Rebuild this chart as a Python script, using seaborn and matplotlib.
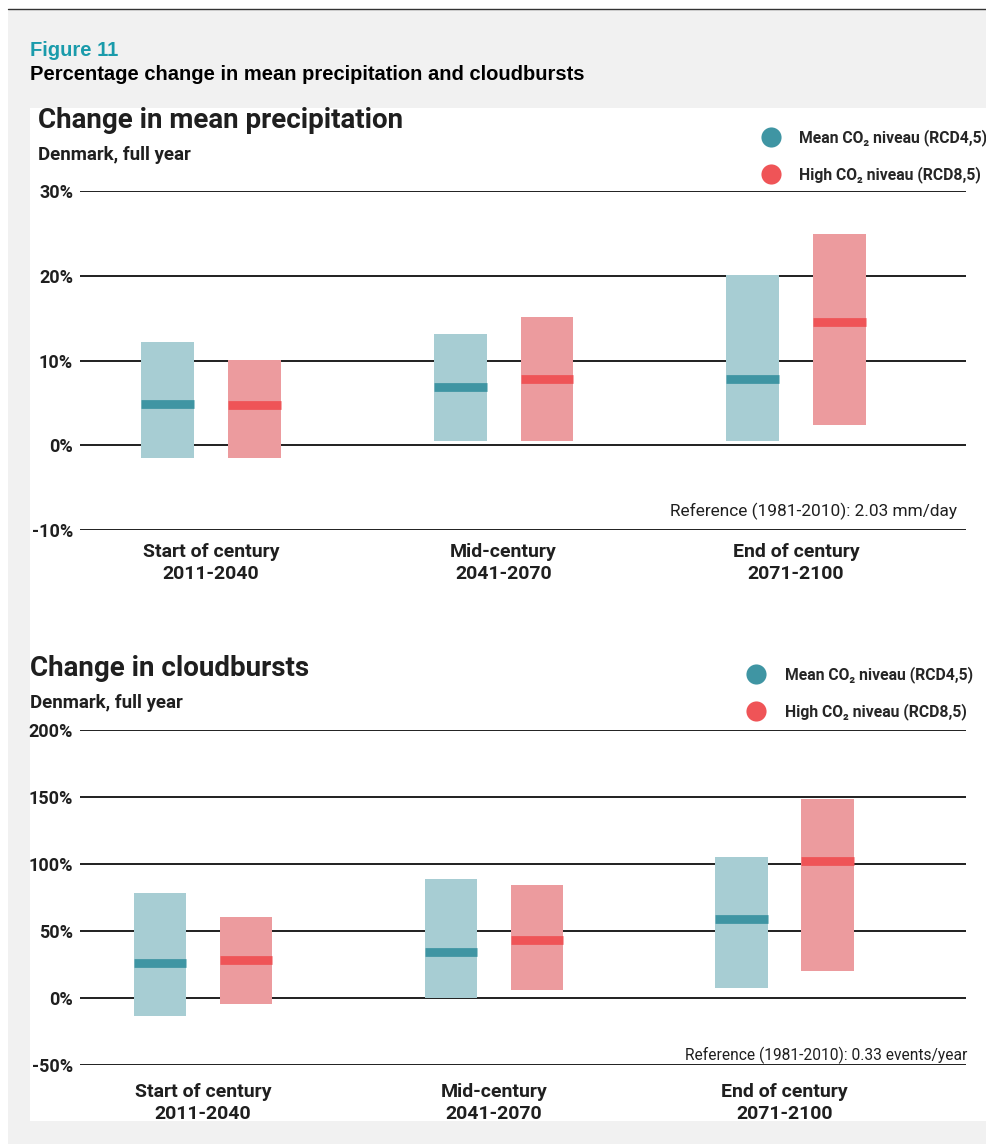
#!/usr/bin/env python3
"""
Figure 11 - percentage change in mean precipitation and cloudbursts (Denmark)
"""

import numpy as np
import pandas as pd
import matplotlib
matplotlib.use("Agg")
import matplotlib.pyplot as plt
from matplotlib.patches import Rectangle
from matplotlib.lines import Line2D
import seaborn as sns

# --- data ------------------------------------------------------------------
periods = ["Start of century\n2011-2040", "Mid-century\n2041-2070", "End of century\n2071-2100"]
scenarios = ["Mean CO₂ niveau (RCD4,5)", "High CO₂ niveau (RCD8,5)"]

# mean precipitation, % change
precip_low_45 = [-1.5, 0.5, 0.5]
precip_high_45 = [12.2, 13.1, 20.1]
precip_med_45 = [4.9, 6.9, 7.8]
precip_low_85 = [-1.5, 0.5, 2.4]
precip_high_85 = [10.1, 15.1, 25.0]
precip_med_85 = [4.8, 7.8, 14.6]

# cloudbursts, % change
burst_low_45 = [-13.5, 0.0, 7.2]
burst_high_45 = [78.0, 88.5, 105.0]
burst_med_45 = [26.0, 34.2, 58.4]
burst_low_85 = [-5.2, 5.4, 19.6]
burst_high_85 = [60.0, 84.0, 148.5]
burst_med_85 = [27.7, 43.1, 102.0]

precip_ticks = [-10, 0, 10, 20, 30]
burst_ticks = [-50, 0, 50, 100, 150, 200]

BAND = ["#a7cdd3", "#ec9b9e"]
MED = ["#3f95a3", "#ef5457"]
INK = "#1f1f1f"

W, H = 986, 1144


def fx(x):
    return x / W


def fy(y):
    return 1 - y / H


def make_frame(low45, high45, med45, low85, high85, med85):
    rows = []
    for i in range(len(periods)):
        rows.append(dict(period=i, scenario=0, low=low45[i], high=high45[i], med=med45[i]))
        rows.append(dict(period=i, scenario=1, low=low85[i], high=high85[i], med=med85[i]))
    df = pd.DataFrame(rows)
    df["span"] = df["high"] - df["low"]
    return df


def draw_panel(ax, df, ticks, xlim, xpad, offset=0.148, width=0.18):
    for s in (0, 1):
        sub = df[df["scenario"] == s].sort_values("period")
        pos = sub["period"].to_numpy() + (-offset if s == 0 else offset)
        sns.barplot(x=pos, y=sub["span"].to_numpy(), bottom=sub["low"].to_numpy(),
                    native_scale=True, width=width, color=BAND[s], saturation=1,
                    errorbar=None, linewidth=0, edgecolor="none", zorder=2, ax=ax)
        ax.hlines(sub["med"], pos - width / 2, pos + width / 2, colors=MED[s],
                  lw=6.3, capstyle="butt", zorder=3)

    ax.set_xlim(*xlim)
    ax.set_ylim(ticks[0], ticks[-1])
    ax.set_yticks(ticks)
    ax.set_yticklabels([f"{t}%" for t in ticks], fontsize=13, fontweight="bold", color=INK)
    ax.set_xticks(range(len(periods)))
    ax.set_xticklabels(periods, fontsize=14, fontweight="bold", color=INK, linespacing=1.3)
    ax.tick_params(axis="y", length=0, pad=5)
    ax.tick_params(axis="x", length=0, pad=xpad)
    ax.grid(axis="y", color=INK, lw=1.4)
    ax.grid(axis="x", visible=False)
    ax.set_axisbelow(True)
    ax.set_xlabel("")
    ax.set_ylabel("")
    sns.despine(ax=ax, left=True, bottom=True)


def add_legend(ax, fig, left, top, pad):
    handles = [Line2D([], [], marker="o", ls="none", ms=14.5, color=MED[i],
                      markeredgewidth=0) for i in (0, 1)]
    ax.legend(handles, scenarios, loc="upper left", bbox_to_anchor=(fx(left), fy(top)),
              bbox_transform=fig.transFigure, frameon=False, borderpad=0,
              borderaxespad=0, handlelength=1.3, handletextpad=pad,
              labelspacing=1.3, prop=dict(size=11.3, weight="bold"))


sns.set_theme(style="white")
plt.rcParams["font.family"] = ["Roboto", "DejaVu Sans"]

fig = plt.figure(figsize=(W / 100, H / 100), dpi=100)
fig.patch.set_facecolor("white")

# background panels
fig.add_artist(Rectangle((fx(8), 0), fx(W - 8), fy(10), transform=fig.transFigure,
                         facecolor="#f1f1f1", edgecolor="none", zorder=-3))
fig.add_artist(Rectangle((fx(30), fy(1121)), fx(W - 30), fy(108) - fy(1121),
                         transform=fig.transFigure, facecolor="white",
                         edgecolor="none", zorder=-2))
fig.add_artist(Line2D([fx(8), 1], [fy(9), fy(9)], transform=fig.transFigure,
                      color="#333333", lw=1))

fig.text(fx(30), fy(50), "Figure 11", color="#1a9bab", fontsize=14.5,
         fontweight="bold", family=["Liberation Sans", "DejaVu Sans"], va="center")
fig.text(fx(30), fy(75), "Percentage change in mean precipitation and cloudbursts",
         color="black", fontsize=14.5, fontweight="bold",
         family=["Liberation Sans", "DejaVu Sans"], va="center")

# --- chart 1: mean precipitation -------------------------------------------
ax1 = fig.add_axes([fx(80), fy(529.7), fx(886), fy(191.4) - fy(529.7)])
precip = make_frame(precip_low_45, precip_high_45, precip_med_45,
                    precip_low_85, precip_high_85, precip_med_85)
draw_panel(ax1, precip, precip_ticks, (-0.448, 2.581), 9.5)
add_legend(ax1, fig, 761, 129, 1.1)
fig.text(fx(38), fy(121), "Change in mean precipitation", fontsize=20,
         fontweight="bold", color=INK, va="center")
fig.text(fx(38), fy(155), "Denmark, full year", fontsize=13.5, fontweight="bold",
         color=INK, va="center")
fig.text(fx(957), fy(511), "Reference (1981-2010): 2.03 mm/day", fontsize=12.4,
         color=INK, ha="right", va="center")

# --- chart 2: cloudbursts ---------------------------------------------------
ax2 = fig.add_axes([fx(80), fy(1064.5), fx(886), fy(729.6) - fy(1064.5)])
bursts = make_frame(burst_low_45, burst_high_45, burst_med_45,
                    burst_low_85, burst_high_85, burst_med_85)
draw_panel(ax2, bursts, burst_ticks, (-0.423, 2.624), 13)
add_legend(ax2, fig, 746, 666, 1.2)
fig.text(fx(30), fy(668), "Change in cloudbursts", fontsize=20,
         fontweight="bold", color=INK, va="center")
fig.text(fx(30), fy(703), "Denmark, full year", fontsize=13.5, fontweight="bold",
         color=INK, va="center")
fig.text(fx(967), fy(1055), "Reference (1981-2010): 0.33 events/year", fontsize=11.2,
         color=INK, ha="right", va="center")

fig.savefig("out.png", dpi=100, facecolor=fig.get_facecolor())
